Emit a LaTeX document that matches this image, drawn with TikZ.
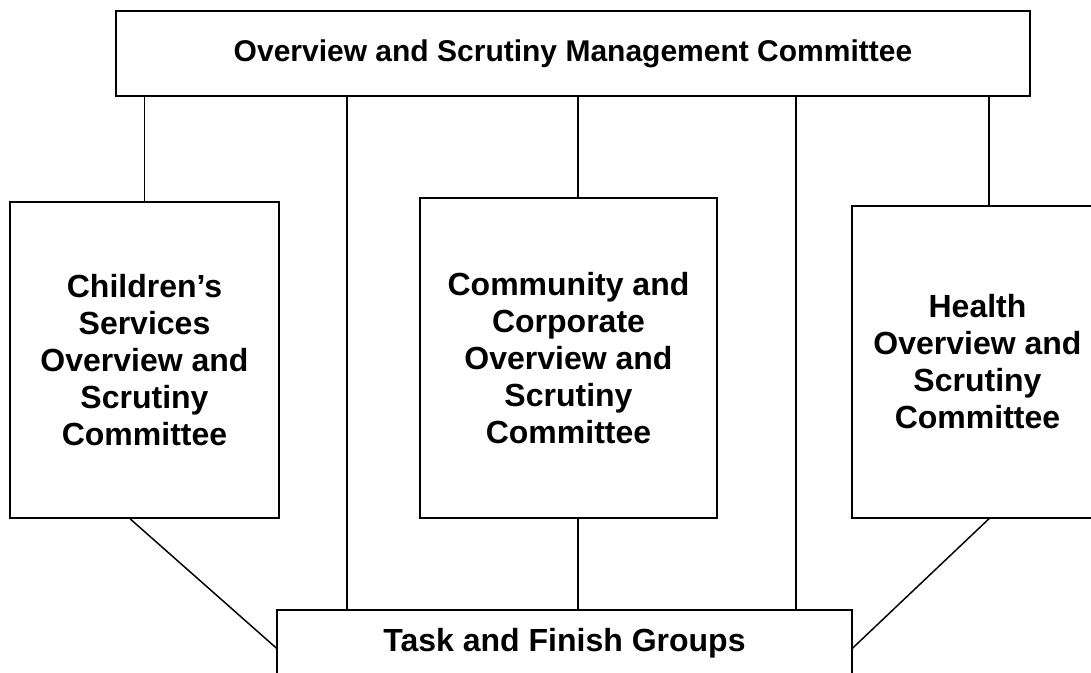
\documentclass[tikz,border=0pt]{standalone}
\usepackage{fontspec}
\setmainfont{Liberation Sans}
\usetikzlibrary{positioning}

\begin{document}
\begin{tikzpicture}[x=0.75pt,y=-0.75pt,line width=1.1pt,
    box/.style={draw,rectangle,inner sep=0pt,align=center,
        font=\fontsize{24}{27.75}\selectfont\bfseries}]
    \useasboundingbox (0,0) rectangle (1091,673);
    \clip (0,0) rectangle (1091,673);
    \node[box,minimum width=685.5pt,minimum height=63.75pt,
        font=\fontsize{22.5}{26}\selectfont\bfseries] (osmc) at (573,53.5)
        {Overview and Scrutiny Management Committee};
    \node[box,minimum width=201.75pt,minimum height=237pt] (child) at (144.5,360)
        {Children’s\\Services\\Overview and\\Scrutiny\\Committee};
    \node[box,minimum width=222.75pt,minimum height=240pt] (comm) at (568.5,358)
        {Community and\\Corporate\\Overview and\\Scrutiny\\Committee};
    \node[box,minimum width=188.25pt,minimum height=234pt] (health) at (977.5,362)
        {Health\\Overview and\\Scrutiny\\Committee};
    \node[box,minimum width=431.25pt,minimum height=49.5pt] (tfg) at (564.5,643)
        {Task and Finish Groups};
    % where the links leave the boxes
    \coordinate (xa) at (130,0);
    \coordinate (xb) at (347,0);
    \coordinate (xc) at (578,0);
    \coordinate (xd) at (796,0);
    \coordinate (xe) at (989,0);
    \draw (osmc.south -| child.north) -- (child.north);
    \draw (osmc.south -| xb) -- (tfg.north -| xb);
    \draw (osmc.south -| xc) -- (comm.north -| xc);
    \draw (osmc.south -| xd) -- (tfg.north -| xd);
    \draw (osmc.south -| xe) -- (health.north -| xe);
    \draw (comm.south -| xc) -- (tfg.north -| xc);
    \draw (child.south -| xa) -- ([yshift=-3.75pt]tfg.west);
    \draw (health.south -| xe) -- ([yshift=-3.75pt]tfg.east);
\end{tikzpicture}
\end{document}
